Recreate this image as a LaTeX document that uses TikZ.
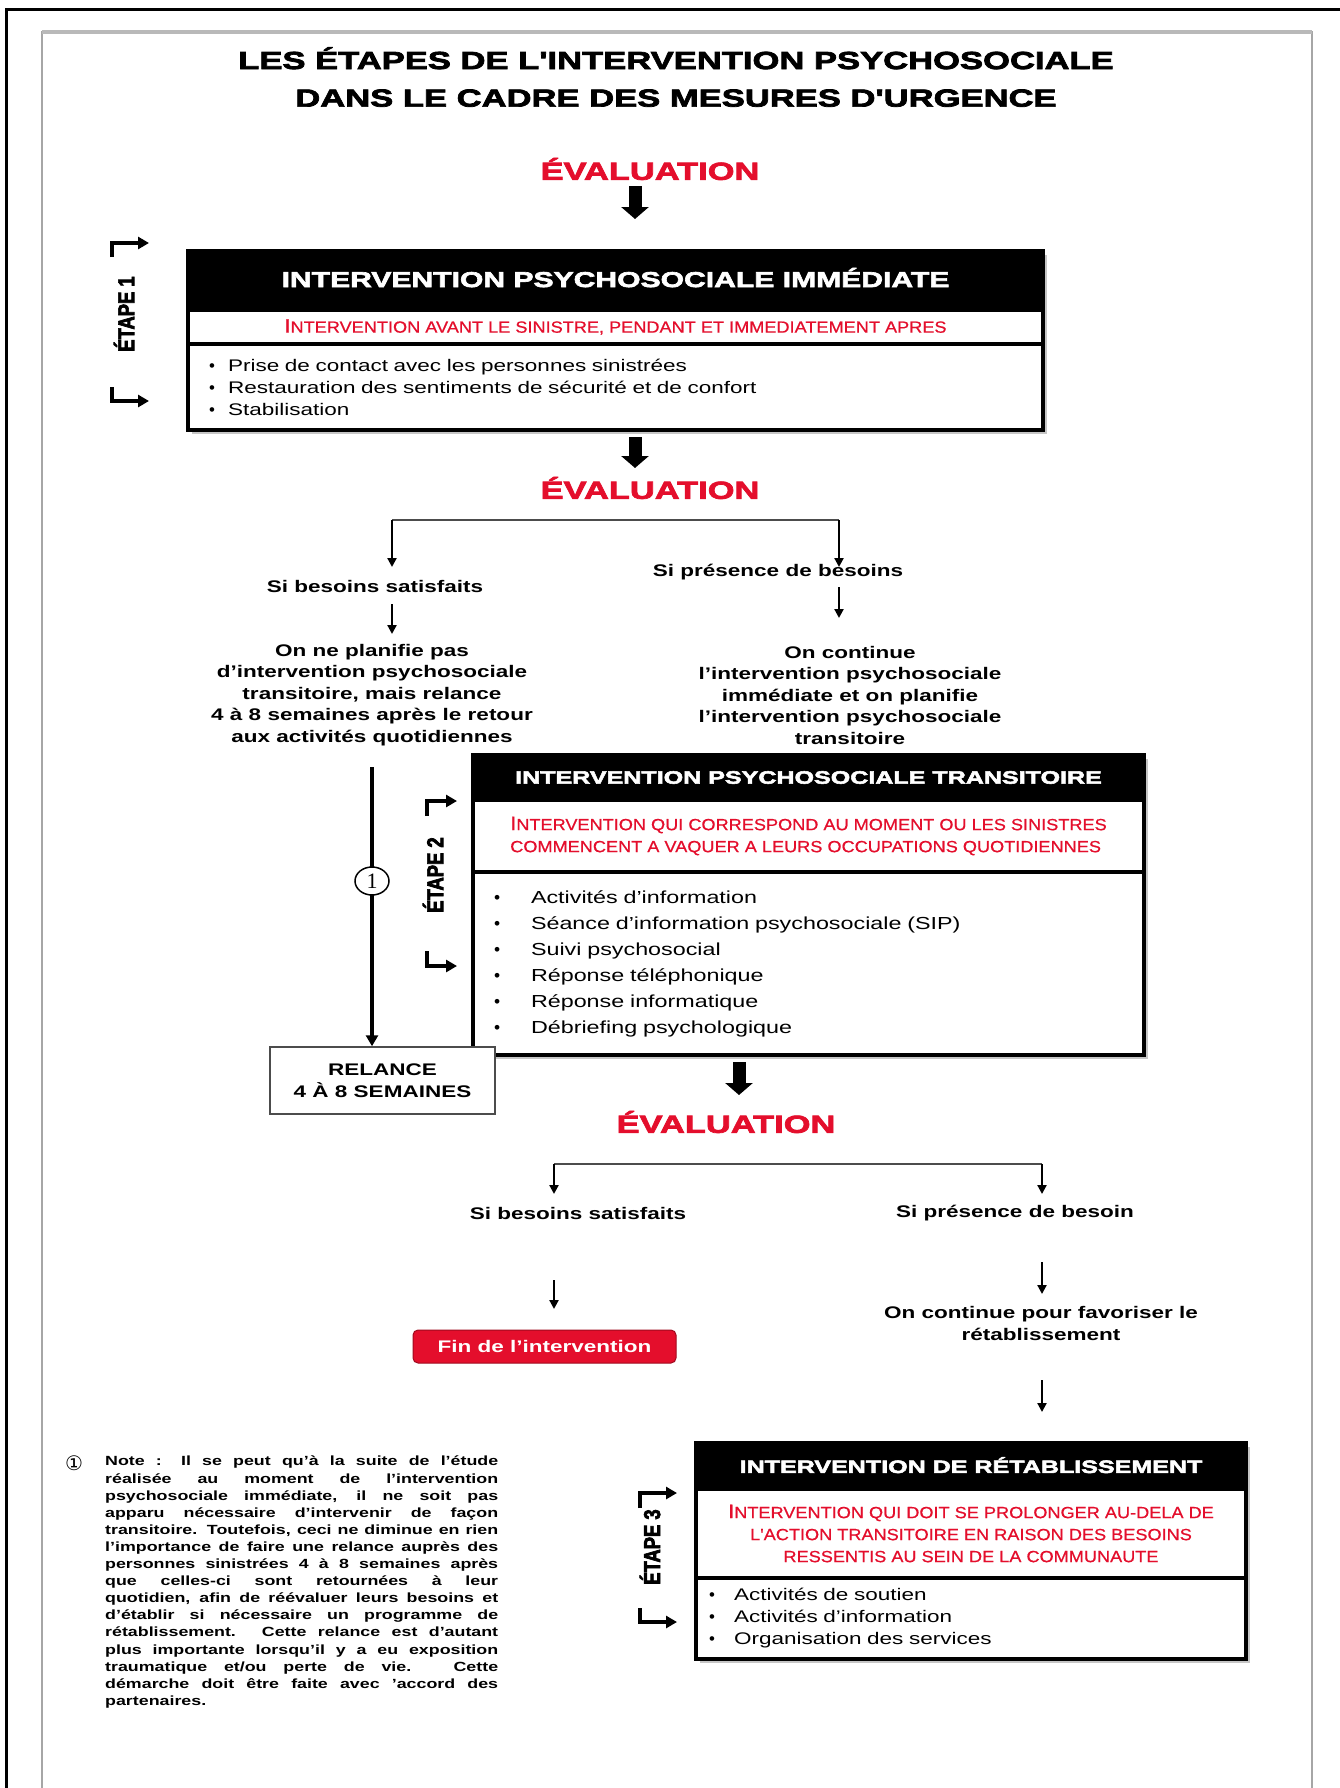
\documentclass[tikz,border=0pt]{standalone}
\usepackage{fontspec}
\setmainfont{Liberation Sans}[FakeStretch=1.34]
\newfontfamily\heavy{Liberation Sans}[FakeStretch=1.40,BoldFeatures={FakeBold=3}]
\newfontfamily\redf{Liberation Sans}[FakeStretch=1.12,FakeBold=0.6]
\newfontfamily\etapef{Liberation Sans}[FakeStretch=0.8,BoldFeatures={FakeBold=3}]
\newfontfamily\symf{DejaVu Sans}
\newfontfamily\plainf{Liberation Sans}
\newfontfamily\seriff{Liberation Serif}
\usetikzlibrary{arrows.meta,calc,shapes.geometric,backgrounds}
\definecolor{myred}{RGB}{228,14,44}
\newcommand\fsz[2]{\fontsize{#1}{#2}\selectfont}
\newcommand\bigI[1]{{\fontsize{19.5}{20}\selectfont #1}}
\newcommand\blta{\makebox[19pt][l]{\plainf\textbullet}}
\newcommand\bltb{\makebox[37pt][l]{\plainf\textbullet}}
\newcommand\bltc{\makebox[25pt][l]{\plainf\textbullet}}
\newcommand\nl[1]{\makebox[393pt][s]{#1}}
\begin{document}
\begin{tikzpicture}[x=1pt,y=-1pt,
  hdr/.style={fill=black, text=white, draw=black, line width=3.2pt, inner sep=0, outer sep=0},
  redrow/.style={fill=white, draw=black, line width=3.2pt, inner sep=0, outer sep=0, text=myred},
  listrow/.style={fill=white, draw=black, line width=3.2pt, inner ysep=0, outer sep=0, align=left},
  evalt/.style={font=\heavy\bfseries\fsz{24.6}{30}, text=myred, inner sep=0},
  lbl/.style={font=\bfseries\fsz{16.8}{21.5}, align=center, inner sep=0},
  arr/.style={line width=2.2pt, -{Triangle[width=9pt,length=9pt]}},
  fatarr/.style={line width=13pt, -{Triangle[width=27pt,length=12pt]}},
  branch/.style={line width=2pt, draw=gray!60!black},
  bracketarr/.style={line width=3.4pt, -{Triangle[width=12pt,length=11pt]}},
  etape/.style={font=\etapef\bfseries\fsz{23}{23}, rotate=90, inner sep=0},
  shadowbox/.style={fill=gray!45},
]
\useasboundingbox (0,0) rectangle (1340,1788);
\begin{scope}[on background layer]
\fill[white] (0,0) rectangle (1340,1788);
\end{scope}
% frames
\draw[line width=3pt] (6,1788) -- (6,9) -- (1340,9);
\draw[gray!70, line width=2pt] (42,1788) -- (42,32) -- (1312,32) -- (1312,1788);
\draw[gray!55, line width=3.5pt] (42,32) -- (1312,32);

% title
\node[font=\heavy\bfseries\fsz{24.7}{37.6}, align=center, inner sep=0] (title) at (676,77)
  {LES ÉTAPES DE L'INTERVENTION PSYCHOSOCIALE\\DANS LE CADRE DES MESURES D'URGENCE};

% evaluation 1
\node[evalt] (ev1) at (650,169) {ÉVALUATION};
\coordinate (fa1s) at (635,186);
\coordinate (fa1e) at (635,219);
\draw[fatarr] (fa1s) -- (fa1e);

% box 1
\node[hdr, minimum width=855pt, minimum height=59pt, font=\heavy\bfseries\fsz{21.5}{24}] (h1) at (615.5,280.5) {\raisebox{6pt}{INTERVENTION PSYCHOSOCIALE IMMÉDIATE}};
\node[redrow, minimum width=855pt, minimum height=34pt, anchor=north, font=\redf\fsz{16.2}{18}] (r1) at (h1.south) {\raisebox{-2pt}{\bigI{I}NTERVENTION AVANT LE SINISTRE, PENDANT ET IMMEDIATEMENT APRES}};
\node[listrow, minimum width=855pt, minimum height=86pt, anchor=north, inner xsep=21pt, text width=813pt, font=\fsz{16.8}{22}] (l1) at (r1.south)
  {\blta Prise de contact avec les personnes sinistrées\\\blta Restauration des sentiments de sécurité et de confort\\\blta Stabilisation};
\begin{scope}[on background layer]
\fill[shadowbox] ($(h1.north west)+(4,4)$) rectangle ($(l1.south east)+(4,4)$);
\end{scope}

% etape 1
\node[etape] (e1) at (124,314) {ÉTAPE 1};
\draw[bracketarr] (112,257) |- (149,243);
\draw[bracketarr] (112,387) |- (149,401);

% evaluation 2
\coordinate (fa2s) at (635,437);
\coordinate (fa2e) at (635,468);
\draw[fatarr] (fa2s) -- (fa2e);
\node[evalt] (ev2) at (650,488) {ÉVALUATION};

% branch 1
\coordinate (b1L) at (392,520);
\coordinate (b1R) at (839,520);
\draw[branch] (b1L) -- (b1R);
\node[lbl] (sb1) at (375,586) {Si besoins satisfaits};
\node[lbl] (sp1) at (778,572) {Si présence de besoins};
\coordinate (b1Le) at (392,567);
\coordinate (b1Re) at (839,567);
\draw[arr] (b1L) -- (b1Le);
\draw[arr] (b1R) -- (b1Re);
\node[lbl] (p1) at (372,695) {On ne planifie pas\\d'intervention psychosociale\\transitoire, mais relance\\4 à 8 semaines après le retour\\aux activités quotidiennes};
\node[lbl] (p2) at (850,695) {On continue\\l'intervention psychosociale\\immédiate et on planifie\\l'intervention psychosociale\\transitoire};
\coordinate (a1s) at (392,604);
\coordinate (a1e) at (392,634);
\coordinate (a2s) at (839,587);
\coordinate (a2e) at (839,618);
\draw[arr] (a1s) -- (a1e);
\draw[arr] (a2s) -- (a2e);

% box 2
\node[hdr, minimum width=671pt, minimum height=45pt, font=\heavy\bfseries\fsz{17.9}{20}] (h2) at (808.5,777.5) {INTERVENTION PSYCHOSOCIALE TRANSITOIRE};
\node[redrow, minimum width=671pt, minimum height=72pt, anchor=north, align=left, font=\redf\fsz{16.2}{22}] (r2) at (h2.south)
  {\bigI{I}NTERVENTION QUI CORRESPOND AU MOMENT OU LES SINISTRES\\COMMENCENT A VAQUER A LEURS OCCUPATIONS QUOTIDIENNES};
\node[listrow, minimum width=671pt, minimum height=183pt, anchor=north, inner xsep=21pt, text width=629pt, font=\fsz{17.4}{26}] (l2) at (r2.south)
  {\bltb Activités d'information\\\bltb Séance d'information psychosociale (SIP)\\\bltb Suivi psychosocial\\\bltb Réponse téléphonique\\\bltb Réponse informatique\\\bltb Débriefing psychologique};
\begin{scope}[on background layer]
\fill[shadowbox] ($(h2.north west)+(4,4)$) rectangle ($(l2.south east)+(4,4)$);
\end{scope}

% etape 2
\node[etape] (e2) at (433,875) {ÉTAPE 2};
\draw[bracketarr] (427,816) |- (457,801);
\draw[bracketarr] (427,951) |- (457,966);

% relance
\node[draw=gray!60!black, line width=1.5pt, fill=white, minimum width=225pt, minimum height=67pt, lbl] (rel) at (382.5,1080.5) {RELANCE\\4 À 8 SEMAINES};
\coordinate (tl) at (372,767);
\draw[line width=4.5pt, -{Triangle[width=12pt,length=11pt]}] (tl) -- (tl |- rel.north);
\node[draw, fill=white, ellipse, minimum width=34pt, minimum height=28pt, inner sep=0, line width=1.5pt, font=\seriff\fsz{22}{22}] (c1) at (372,881) {1};

% evaluation 3
\coordinate (fa3s) at (739,1062);
\coordinate (fa3e) at (739,1095);
\draw[fatarr] (fa3s) -- (fa3e);
\node[evalt] (ev3) at (726,1122) {ÉVALUATION};

% branch 2
\coordinate (b2L) at (554,1164);
\coordinate (b2R) at (1042,1164);
\draw[branch] (b2L) -- (b2R);
\coordinate (b2Le) at (554,1194);
\coordinate (b2Re) at (1042,1194);
\draw[arr] (b2L) -- (b2Le);
\draw[arr] (b2R) -- (b2Re);
\node[lbl] (sb2) at (578,1213) {Si besoins satisfaits};
\node[lbl] (sp2) at (1015,1213) {Si présence de besoin};
\coordinate (a3s) at (554,1280);
\coordinate (a3e) at (554,1309);
\draw[arr] (a3s) -- (a3e);
\node[fill=myred, draw=myred!70!black, line width=1pt, rounded corners=5pt, minimum width=263pt, minimum height=33pt, inner sep=0, text=white, font=\bfseries\fsz{16.8}{18}] (fin) at (544.5,1346.5) {Fin de l'intervention};
\coordinate (a4s) at (1042,1262);
\coordinate (a4e) at (1042,1294);
\draw[arr] (a4s) -- (a4e);
\node[lbl] (p3) at (1041,1323.5) {On continue pour favoriser le\\rétablissement};
\coordinate (a5s) at (1042,1380);
\coordinate (a5e) at (1042,1412);
\draw[arr] (a5s) -- (a5e);

% box 3
\node[hdr, minimum width=550pt, minimum height=46pt, font=\heavy\bfseries\fsz{17.9}{20}] (h3) at (971,1466) {\raisebox{2pt}{INTERVENTION DE RÉTABLISSEMENT}};
\node[redrow, minimum width=550pt, minimum height=89pt, anchor=north, align=center, font=\redf\fsz{16.2}{22}] (r3) at (h3.south)
  {\bigI{I}NTERVENTION QUI DOIT SE PROLONGER AU-DELA DE\\L'ACTION TRANSITOIRE EN RAISON DES BESOINS\\RESSENTIS AU SEIN DE LA COMMUNAUTE};
\node[listrow, minimum width=550pt, minimum height=81pt, anchor=north, inner xsep=13pt, text width=524pt, font=\fsz{16.8}{22}] (l3) at (r3.south)
  {\bltc Activités de soutien\\\bltc Activités d'information\\\bltc Organisation des services};
\begin{scope}[on background layer]
\fill[shadowbox] ($(h3.north west)+(4,4)$) rectangle ($(l3.south east)+(4,4)$);
\end{scope}

% etape 3
\node[etape] (e3) at (650,1547) {ÉTAPE 3};
\draw[bracketarr] (640,1508) |- (677,1493);
\draw[bracketarr] (640,1608) |- (677,1622);

% note
\node[font=\symf\fsz{20}{20}, inner sep=0] (n1) at (74,1463) {①};
\node[anchor=north west, inner sep=0, align=left, font=\bfseries\fsz{13.3}{17.1}] (note) at (105,1456)
  {\nl{Note : Il se peut qu'à la suite de l'étude}\\
   \nl{réalisée au moment de l'intervention}\\
   \nl{psychosociale immédiate, il ne soit pas}\\
   \nl{apparu nécessaire d'intervenir de façon}\\
   \nl{transitoire. Toutefois, ceci ne diminue en rien}\\
   \nl{l'importance de faire une relance auprès des}\\
   \nl{personnes sinistrées 4 à 8 semaines après}\\
   \nl{que celles-ci sont retournées à leur}\\
   \nl{quotidien, afin de réévaluer leurs besoins et}\\
   \nl{d'établir si nécessaire un programme de}\\
   \nl{rétablissement. Cette relance est d'autant}\\
   \nl{plus importante lorsqu'il y a eu exposition}\\
   \nl{traumatique et/ou perte de vie. Cette}\\
   \nl{démarche doit être faite avec 'accord des}\\
   partenaires.};
\end{tikzpicture}
\end{document}
